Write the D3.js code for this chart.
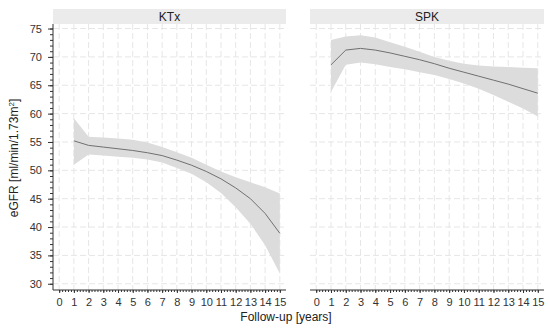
<!DOCTYPE html>
<html>
<head>
<meta charset="utf-8">
<script src="https://cdn.jsdelivr.net/npm/d3@7"></script>
<style>
  body { margin: 0; background: #fff; }
  text { font-family: "Liberation Sans", Arial, sans-serif; }
</style>
</head>
<body>
<svg id="chart" width="550" height="329"></svg>
<script>
// follow-up years
const years = [1, 2, 3, 4, 5, 6, 7, 8, 9, 10, 11, 12, 13, 14, 15];

// KTx: estimated eGFR with confidence band
const ktxMean  = [55.2, 54.4, 54.1, 53.8, 53.5, 53.1, 52.6, 51.8, 50.9, 49.8, 48.5, 46.9, 45.0, 42.4, 38.9];
const ktxUpper = [59.2, 55.9, 55.8, 55.6, 55.4, 54.9, 54.1, 53.2, 52.2, 51.0, 49.8, 48.8, 47.9, 47.0, 45.9];
const ktxLower = [51.0, 52.8, 52.6, 52.4, 52.2, 51.9, 51.4, 50.4, 49.4, 47.9, 46.0, 43.5, 40.6, 36.8, 31.8];

// SPK
const spkMean  = [68.6, 71.2, 71.5, 71.2, 70.7, 70.1, 69.5, 68.8, 68.0, 67.3, 66.6, 65.9, 65.2, 64.4, 63.6];
const spkUpper = [73.0, 73.6, 73.8, 73.4, 72.6, 71.8, 70.9, 70.0, 69.3, 68.8, 68.5, 68.3, 68.2, 68.1, 68.0];
const spkLower = [63.8, 68.6, 69.0, 68.7, 68.2, 67.8, 67.3, 66.8, 66.1, 65.3, 64.4, 63.3, 62.1, 60.9, 59.5];

const xTicks = d3.range(0, 16);
const yTicks = d3.range(30, 76, 5);

const panels = [
    { name: 'KTx', mean: ktxMean, upper: ktxUpper, lower: ktxLower, x0: 53, x1: 286, yAxis: true },
    { name: 'SPK', mean: spkMean, upper: spkUpper, lower: spkLower, x0: 310, x1: 544, yAxis: false }
];

const plotTop = 24, plotBottom = 290;
const svg = d3.select('#chart');

const y = d3.scaleLinear().domain([28.9, 75.8]).range([plotBottom, plotTop]);

panels.forEach(p => {
    const x = d3.scaleLinear().domain([-0.42, 15.42]).range([p.x0, p.x1]);
    const g = svg.append('g');

    // strip header
    g.append('rect')
        .attr('x', p.x0).attr('y', 9)
        .attr('width', p.x1 - p.x0).attr('height', plotTop - 9)
        .attr('fill', '#ebebeb');
    g.append('text')
        .attr('x', (p.x0 + p.x1) / 2).attr('y', 16.5)
        .attr('dy', '0.35em')
        .attr('text-anchor', 'middle')
        .style('font-size', '12px')
        .attr('fill', '#222')
        .text(p.name);

    // dashed grid
    g.selectAll('.vgrid').data(xTicks).enter().append('line')
        .attr('x1', d => x(d)).attr('x2', d => x(d))
        .attr('y1', plotTop).attr('y2', plotBottom)
        .attr('stroke', '#e6e6e6').attr('stroke-width', 1)
        .attr('stroke-dasharray', '6,3');
    g.selectAll('.hgrid').data(yTicks).enter().append('line')
        .attr('x1', p.x0).attr('x2', p.x1)
        .attr('y1', d => y(d)).attr('y2', d => y(d))
        .attr('stroke', '#e6e6e6').attr('stroke-width', 1)
        .attr('stroke-dasharray', '6,3');

    // confidence band
    const band = years.map((yr, i) => ({ x: yr, lo: p.lower[i], hi: p.upper[i] }));
    g.append('path')
        .datum(band)
        .attr('d', d3.area().x(d => x(d.x)).y0(d => y(d.lo)).y1(d => y(d.hi)))
        .attr('fill', '#dcdcdc');

    // estimate line
    const pts = years.map((yr, i) => ({ x: yr, v: p.mean[i] }));
    g.append('path')
        .datum(pts)
        .attr('d', d3.line().x(d => x(d.x)).y(d => y(d.v)))
        .attr('fill', 'none')
        .attr('stroke', '#707070')
        .attr('stroke-width', 1);

    // x axis with minor ticks
    const xMinor = g.append('g').attr('transform', `translate(0,${plotBottom})`)
        .call(d3.axisBottom(x).tickValues(d3.range(0, 15.01, 0.2)).tickSize(2).tickFormat(''));
    xMinor.select('.domain').remove();
    const xMajor = g.append('g').attr('transform', `translate(0,${plotBottom})`)
        .call(d3.axisBottom(x).tickValues(xTicks).tickSize(3).tickPadding(5).tickFormat(d3.format('d')));
    xMajor.select('.domain').attr('d', `M${p.x0},0H${p.x1}`);
    g.selectAll('.tick line, .domain').attr('stroke', '#333');
    xMajor.selectAll('text').style('font-size', '11px').attr('fill', '#333').attr('font-family', null);

    if (p.yAxis) {
        const yMinor = g.append('g').attr('transform', `translate(${p.x0},0)`)
            .call(d3.axisLeft(y).tickValues(d3.range(30, 75.01, 1)).tickSize(3).tickFormat(''));
        yMinor.select('.domain').remove();
        const yMajor = g.append('g').attr('transform', `translate(${p.x0},0)`)
            .call(d3.axisLeft(y).tickValues(yTicks).tickSize(5).tickPadding(6));
        yMajor.select('.domain').attr('d', `M0,${plotTop}V${plotBottom}`);
        g.selectAll('.tick line, .domain').attr('stroke', '#333');
        yMajor.selectAll('text').style('font-size', '11px').attr('fill', '#333').attr('font-family', null);
    }
});

// axis titles
svg.append('text')
    .attr('x', 286).attr('y', 317)
    .attr('dy', '0.35em')
    .attr('text-anchor', 'middle')
    .style('font-size', '12px')
    .attr('fill', '#222')
    .text('Follow-up [years]');

const yTitle = svg.append('text')
    .attr('transform', 'translate(14,158) rotate(-90)')
    .attr('text-anchor', 'middle')
    .attr('dy', '0.35em')
    .style('font-size', '12px')
    .attr('fill', '#222');
yTitle.append('tspan').text('eGFR [ml/min/1.73m');
yTitle.append('tspan').attr('baseline-shift', 'super').style('font-size', '8px').text('2');
yTitle.append('tspan').text(']');
</script>
</body>
</html>
